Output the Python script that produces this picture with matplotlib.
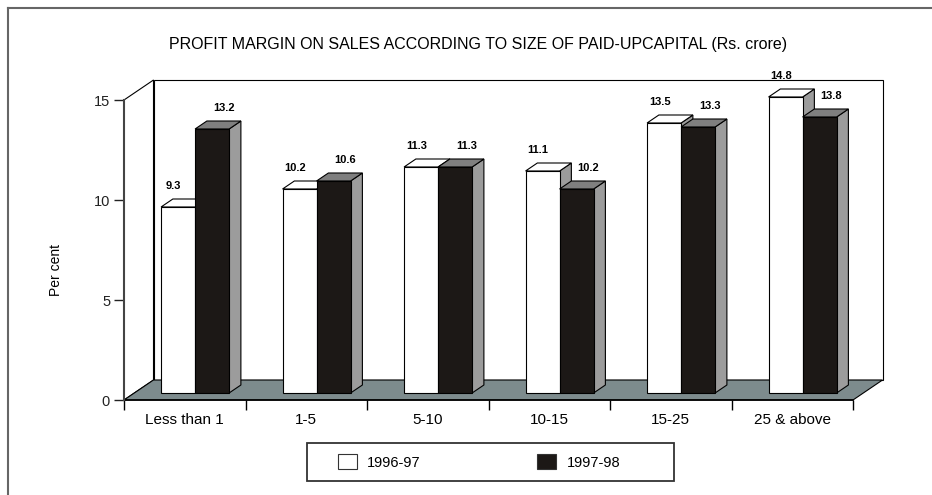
import matplotlib
matplotlib.use('Agg')
import matplotlib.pyplot as plt
from matplotlib.patches import Polygon, Rectangle, Patch
from matplotlib.lines import Line2D
import numpy as np

plt.rcParams['font.family'] = ['Liberation Sans', 'DejaVu Sans']

categories = ['Less than 1', '1-5', '5-10', '10-15', '15-25', '25 & above']
series_names = ['1996-97', '1997-98']
values_9697 = [9.3, 10.2, 11.3, 11.1, 13.5, 14.8]
values_9798 = [13.2, 10.6, 11.3, 10.2, 13.3, 13.8]
y_ticks = [0, 5, 10, 15]
title = 'PROFIT MARGIN ON SALES ACCORDING TO SIZE OF PAID-UPCAPITAL (Rs. crore)'

W, H = 932, 495
# oblique depth offset in data units (x: categories, y: percent)
DX = 29.5 / 121.5
DY = 1.0
BAR_W = 0.28
BAR_D0, BAR_D1 = 0.35, 0.75
FLOOR_C = '#7d8b8d'
SIDE_C = '#9c9c9c'
DARK_TOP = '#7f7f7f'
DARK_C = '#1c1816'


def proj(x, v, d):
    return (x + d * DX, v + d * DY)


def poly(ax, pts, fc, z, lw=0.8):
    p = Polygon([proj(*q) for q in pts], closed=True, facecolor=fc,
                edgecolor='black', lw=lw, zorder=z, clip_on=False)
    ax.add_patch(p)


def draw_bar(ax, x0, v, face, top, z):
    x1 = x0 + BAR_W
    poly(ax, [(x1, 0, BAR_D0), (x1, 0, BAR_D1), (x1, v, BAR_D1), (x1, v, BAR_D0)], SIDE_C, z)
    poly(ax, [(x0, v, BAR_D0), (x1, v, BAR_D0), (x1, v, BAR_D1), (x0, v, BAR_D1)], top, z)
    ax.bar(x0 + BAR_D0 * DX, v, BAR_W, bottom=BAR_D0 * DY, align='edge',
           color=face, edgecolor='black', lw=0.8, zorder=z + 0.05, clip_on=False)


fig = plt.figure(figsize=(W / 100, H / 100), dpi=100)
ax = fig.add_axes([124 / W, 95 / H, 729 / W, 300 / H])
n = len(categories)
ax.set_xlim(-0.5, n - 0.5)
ax.set_ylim(0, 15)

# walls and floor
x_lo, x_hi = -0.5, n - 0.5
poly(ax, [(x_lo, 0, 1), (x_hi, 0, 1), (x_hi, 15, 1), (x_lo, 15, 1)], 'white', 1)
poly(ax, [(x_lo, 0, 0), (x_lo, 0, 1), (x_lo, 15, 1), (x_lo, 15, 0)], 'white', 1.1)
poly(ax, [(x_lo, 0, 0), (x_hi, 0, 0), (x_hi, 0, 1), (x_lo, 0, 1)], FLOOR_C, 1.2)

xs = np.arange(n)
for i, c in enumerate(xs):
    z = 3 + i
    draw_bar(ax, c - BAR_W, values_9697[i], 'white', 'white', z)
    draw_bar(ax, c, values_9798[i], DARK_C, DARK_TOP, z + 0.5)
    ax.text(c - BAR_W / 2 + 0.2 * DX, values_9697[i] + 1.4, '%.1f' % values_9697[i],
            ha='center', va='center', fontsize=8, fontweight='bold', zorder=20)
    ax.text(c + BAR_W / 2 + BAR_D1 * DX, values_9798[i] + 1.4, '%.1f' % values_9798[i],
            ha='center', va='center', fontsize=8, fontweight='bold', zorder=20)

for s in ['top', 'right']:
    ax.spines[s].set_visible(False)
ax.spines['left'].set_linewidth(1.5)
ax.spines['left'].set_color('#444444')
ax.spines['bottom'].set_linewidth(1.2)
ax.spines['bottom'].set_zorder(2)
ax.patch.set_visible(False)

ax.set_yticks(y_ticks)
ax.tick_params(axis='y', length=7, width=1, pad=3, labelsize=10.5, colors='#222222')
ax.set_xticks(xs)
ax.set_xticklabels(categories)
ax.set_xticks(np.arange(n + 1) - 0.5, minor=True)
ax.tick_params(axis='x', which='major', length=0, pad=9, labelsize=11)
ax.tick_params(axis='x', which='minor', length=7, width=1)

fig.text(478 / W, 1 - 45 / H, title, ha='center', va='center', fontsize=11.5)
fig.text(56 / W, 1 - 270 / H, 'Per cent', rotation=90, ha='center', va='center', fontsize=10)

# outer frame (top and left only)
fig.add_artist(Line2D([8 / W, 1], [1 - 8 / H, 1 - 8 / H], transform=fig.transFigure,
                      color='#666666', lw=1.5))
fig.add_artist(Line2D([8 / W, 8 / W], [0, 1 - 8 / H], transform=fig.transFigure,
                      color='#666666', lw=1.5))

# legend box
fig.add_artist(Rectangle((307 / W, 14 / H), 367 / W, 38 / H, transform=fig.transFigure,
                         facecolor='white', edgecolor='#333333', lw=1.3))
handles = [Patch(facecolor='white', edgecolor='#333333', lw=0.8),
           Patch(facecolor=DARK_C, edgecolor='#333333', lw=0.8)]
fig.legend(handles, series_names, loc='center left', bbox_to_anchor=(338 / W, 33 / H),
           ncol=2, frameon=False, fontsize=10.5, borderpad=0, borderaxespad=0,
           handlelength=1.3, handleheight=1.2, handletextpad=0.7, columnspacing=8.0)

fig.savefig('out.png', dpi=100)
